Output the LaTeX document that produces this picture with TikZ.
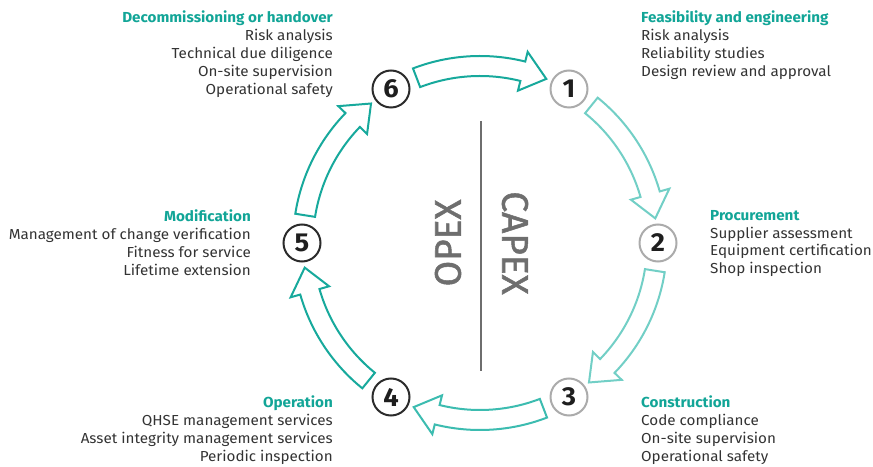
\documentclass[tikz,border=0pt]{standalone}
\usepackage{fontspec}
\setmainfont{Fira Sans}[FakeStretch=1.05]
\newfontfamily\phasefont{Fira Sans}[FakeBold=1.4]
\definecolor{headteal}{HTML}{12A597}
\definecolor{arrowdark}{HTML}{17A99C}
\definecolor{arrowmid}{HTML}{3CBCB0}
\definecolor{arrowlight}{HTML}{72CFC6}
\definecolor{bodytext}{HTML}{333333}
\definecolor{ringgrey}{HTML}{ABABAB}
\definecolor{ringdark}{HTML}{2B2B2B}
\definecolor{numtext}{HTML}{1E1E1E}
\definecolor{phasegrey}{HTML}{6E6E6E}
\begin{document}
\begin{tikzpicture}[x=1pt,y=1pt,
  stage/.style={circle, draw, line width=2pt, minimum size=37pt, inner sep=0pt,
    font=\fontsize{26}{26}\selectfont\bfseries, text=numtext},
  capexstage/.style={stage, draw=ringgrey},
  opexstage/.style={stage, draw=ringdark},
  info/.style={inner sep=0pt, text=bodytext, font=\fontsize{14.5}{17.8}\selectfont},
  infoleft/.style={info, anchor=north west, align=left},
  inforight/.style={info, anchor=north east, align=right},
  blockarrow/.style={line width=2pt, line join=miter, fill=white},
  phase/.style={text=phasegrey, font=\phasefont\fontsize{37}{37}\selectfont, inner sep=0pt}
]
\useasboundingbox (0,0) rectangle (873,466);
\newcommand\headline[1]{\textcolor{headteal}{\bfseries #1}}

% centre of the cycle
\coordinate (c) at (480,223);

% curved block arrows between consecutive stages (clockwise)
\begin{scope}[shift={(c)}]
\foreach \a/\col in {60/arrowlight, 0/arrowlight, -60/arrowmid, -120/arrowdark, -180/arrowdark, -240/arrowdark} {
  \pgfmathsetmacro\t{\a-9}
  \pgfmathsetmacro\h{\a-44}
  \pgfmathsetmacro\b{\a-52}
  \draw[blockarrow, draw=\col]
    (\t:187) arc[start angle=\t, end angle=\h, radius=187]
    -- (\h:197) -- (\b:177) -- (\h:157) -- (\h:167)
    arc[start angle=\h, end angle=\t, radius=167] -- cycle;
}
\end{scope}

% stage markers
\node[capexstage] (s1) at (569,377) {1};
\node[capexstage] (s2) at (658,223) {2};
\node[capexstage] (s3) at (569,69) {3};
\node[opexstage] (s4) at (391,69) {4};
\node[opexstage] (s5) at (302,223) {5};
\node[opexstage] (s6) at (391,377) {6};

% OPEX / CAPEX divider
\coordinate (divtop) at (481,345);
\coordinate (divbot) at (481,95);
\draw[phasegrey, line width=1.5pt] (divtop) -- (divbot);
\node[phase, rotate=90] (opex) at (448,223) {OPEX};
\node[phase, rotate=-90] (capex) at (515,223) {CAPEX};

% stage descriptions
\node[inforight] (t6) at (333,455) {\headline{Decommissioning or handover}\\Risk analysis\\Technical due diligence\\On-site supervision\\Operational safety};
\node[infoleft] (t1) at (641,455) {\headline{Feasibility and engineering}\\Risk analysis\\Reliability studies\\Design review and approval};
\node[infoleft] (t2) at (710,256) {\headline{Procurement}\\Supplier assessment\\Equipment certification\\Shop inspection};
\node[infoleft] (t3) at (641,70) {\headline{Construction}\\Code compliance\\On-site supervision\\Operational safety};
\node[inforight] (t4) at (333,70) {\headline{Operation}\\QHSE management services\\Asset integrity management services\\Periodic inspection};
\node[inforight] (t5) at (251,256) {\headline{Modification}\\Management of change verification\\Fitness for service\\Lifetime extension};
\end{tikzpicture}
\end{document}
